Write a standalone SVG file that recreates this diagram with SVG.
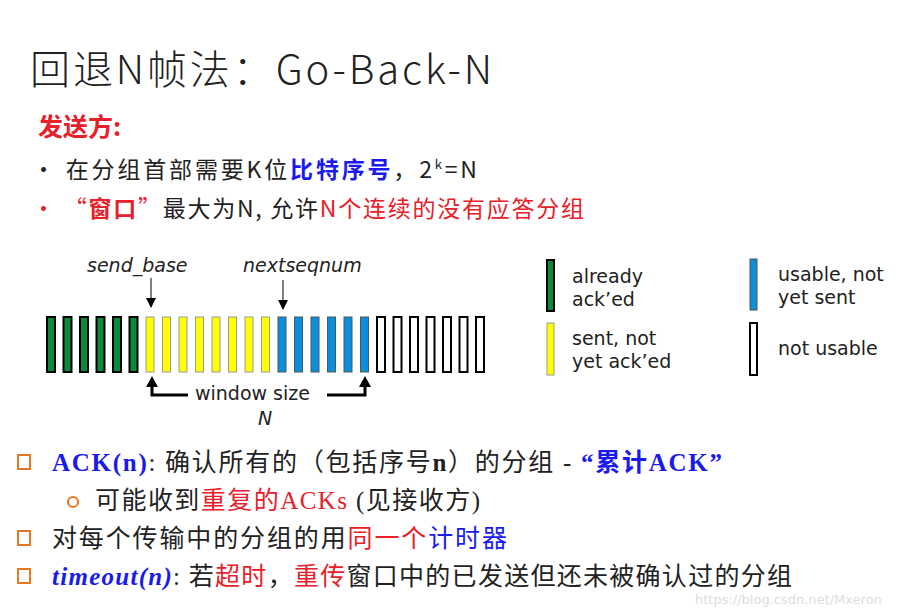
<svg xmlns="http://www.w3.org/2000/svg" width="899" height="611" viewBox="0 0 899 611">
<style>
.c{font-family:"Noto Sans CJK SC","Noto Sans",sans-serif}
.s{font-family:"Liberation Serif","Noto Sans CJK SC",serif}
.d{font-family:"DejaVu Sans","Noto Sans",sans-serif}
.g{fill:#0a8a3a;stroke:#000;stroke-width:2}
.y{fill:#ffff00;stroke:#999;stroke-width:1}
.b{fill:#0a8fdc;stroke:#555;stroke-width:1}
.w{fill:#fff;stroke:#000;stroke-width:2}
.bul{fill:none;stroke:#e87722;stroke-width:2}
</style>
<rect width="899" height="611" fill="#fff"/>
<text x="30" y="84" class="c" font-size="40" font-weight="300" fill="#222" textLength="462" lengthAdjust="spacing">回退N帧法：Go-Back-N</text>
<text x="38" y="136" class="c" font-size="25" font-weight="bold" fill="#e8202a">发送方:</text>
<text x="32" y="178" class="c" font-size="23" fill="#222" textLength="445" lengthAdjust="spacing">• 在分组首部需要K位<tspan fill="#1a1aee" font-weight="bold">比特序号</tspan>，2<tspan font-size="13" dy="-9">k</tspan><tspan dy="9">=N</tspan></text>
<text x="32" y="217" class="c" font-size="23" fill="#222" textLength="552" lengthAdjust="spacing"><tspan fill="#e8202a">• “</tspan><tspan fill="#e8202a" font-weight="bold">窗口</tspan><tspan fill="#e8202a">”</tspan>最大为N, 允许<tspan fill="#e8202a">N个连续的没有应答分组</tspan></text>
<g id="labels" class="d" font-size="19" font-style="italic" fill="#222">
<text x="87" y="272">send_base</text>
<text x="243" y="272">nextseqnum</text>
</g>
<g id="bars">
<rect class="g" x="47" y="317" width="8" height="55"/><rect class="g" x="63.5" y="317" width="8" height="55"/><rect class="g" x="80" y="317" width="8" height="55"/><rect class="g" x="96.5" y="317" width="8" height="55"/><rect class="g" x="113" y="317" width="8" height="55"/><rect class="g" x="129.5" y="317" width="8" height="55"/>
<rect class="y" x="146" y="317" width="8" height="55"/><rect class="y" x="162.5" y="317" width="8" height="55"/><rect class="y" x="179" y="317" width="8" height="55"/><rect class="y" x="195.5" y="317" width="8" height="55"/><rect class="y" x="212" y="317" width="8" height="55"/><rect class="y" x="228.5" y="317" width="8" height="55"/><rect class="y" x="245" y="317" width="8" height="55"/><rect class="y" x="261.5" y="317" width="8" height="55"/>
<rect class="b" x="278" y="317" width="8" height="55"/><rect class="b" x="294.5" y="317" width="8" height="55"/><rect class="b" x="311" y="317" width="8" height="55"/><rect class="b" x="327.5" y="317" width="8" height="55"/><rect class="b" x="344" y="317" width="8" height="55"/><rect class="b" x="360.5" y="317" width="8" height="55"/>
<rect class="w" x="377" y="317" width="8" height="55"/><rect class="w" x="393.5" y="317" width="8" height="55"/><rect class="w" x="410" y="317" width="8" height="55"/><rect class="w" x="426.5" y="317" width="8" height="55"/><rect class="w" x="443" y="317" width="8" height="55"/><rect class="w" x="459.5" y="317" width="8" height="55"/><rect class="w" x="476" y="317" width="8" height="55"/>
</g>
<g id="connectors" stroke="#000" fill="none">
<line x1="151" y1="278" x2="151" y2="307" stroke-width="1"/><path d="M146,298 L156,298 L151,308z" fill="#000" stroke="none"/>
<line x1="283" y1="280" x2="283" y2="309" stroke-width="1"/><path d="M278,300 L288,300 L283,310z" fill="#000" stroke="none"/>
<polyline points="188,395 152,395 152,385" stroke-width="3"/><path d="M146,387 L158,387 L152,376z" fill="#000" stroke="none"/>
<polyline points="327,395 365,395 365,385" stroke-width="3"/><path d="M359,387 L371,387 L365,376z" fill="#000" stroke="none"/>
</g>
<g class="d" font-size="19" fill="#222">
<text x="195" y="400">window size</text>
<text x="258" y="425" font-style="italic">N</text>
</g>
<g id="legend">
<rect class="g" x="547" y="260" width="7" height="51"/>
<rect class="y" x="547" y="323" width="7" height="52"/>
<rect class="b" x="750" y="259" width="7" height="51"/>
<rect class="w" x="750" y="323" width="7" height="52"/>
<g class="d" font-size="19" fill="#222">
<text x="572" y="283">already</text><text x="572" y="306">ack’ed</text>
<text x="572" y="345">sent, not</text><text x="572" y="368">yet ack’ed</text>
<text x="778" y="281">usable, not</text><text x="778" y="304">yet sent</text>
<text x="778" y="355">not usable</text>
</g>
</g>
<g id="bullets">
<rect class="bul" x="18" y="455" width="12" height="14"/>
<rect class="bul" x="18" y="531" width="12" height="14"/>
<rect class="bul" x="18" y="569" width="12" height="14"/>
<circle cx="73" cy="502" r="5" class="bul"/>
</g>
<text x="52" y="471" class="s" font-size="25" fill="#222" textLength="670" lengthAdjust="spacing"><tspan fill="#1a1aee" font-weight="bold">ACK(n)</tspan>: 确认所有的（包括序号<tspan font-weight="bold">n</tspan>）的分组 - <tspan fill="#1a1aee" font-weight="bold">“累计ACK”</tspan></text>
<text x="95" y="509" class="s" font-size="25" fill="#222" textLength="385" lengthAdjust="spacing">可能收到<tspan fill="#e8202a">重复的ACKs</tspan> (见接收方)</text>
<text x="52" y="547" class="s" font-size="25" fill="#222" textLength="455" lengthAdjust="spacing">对每个传输中的分组的用<tspan fill="#e8202a">同一个</tspan><tspan fill="#1a1aee">计时器</tspan></text>
<text x="52" y="585" class="s" font-size="25" fill="#222" textLength="740" lengthAdjust="spacing"><tspan fill="#1a1aee" font-weight="bold" font-style="italic">timeout(n)</tspan>: 若<tspan fill="#e8202a">超时</tspan>，<tspan fill="#e8202a">重传</tspan>窗口中的已发送但还未被确认过的分组</text>
<text x="695" y="604" class="d" font-size="13" fill="#ddd">https://blog.csdn.net/Mxeron</text>
</svg>
